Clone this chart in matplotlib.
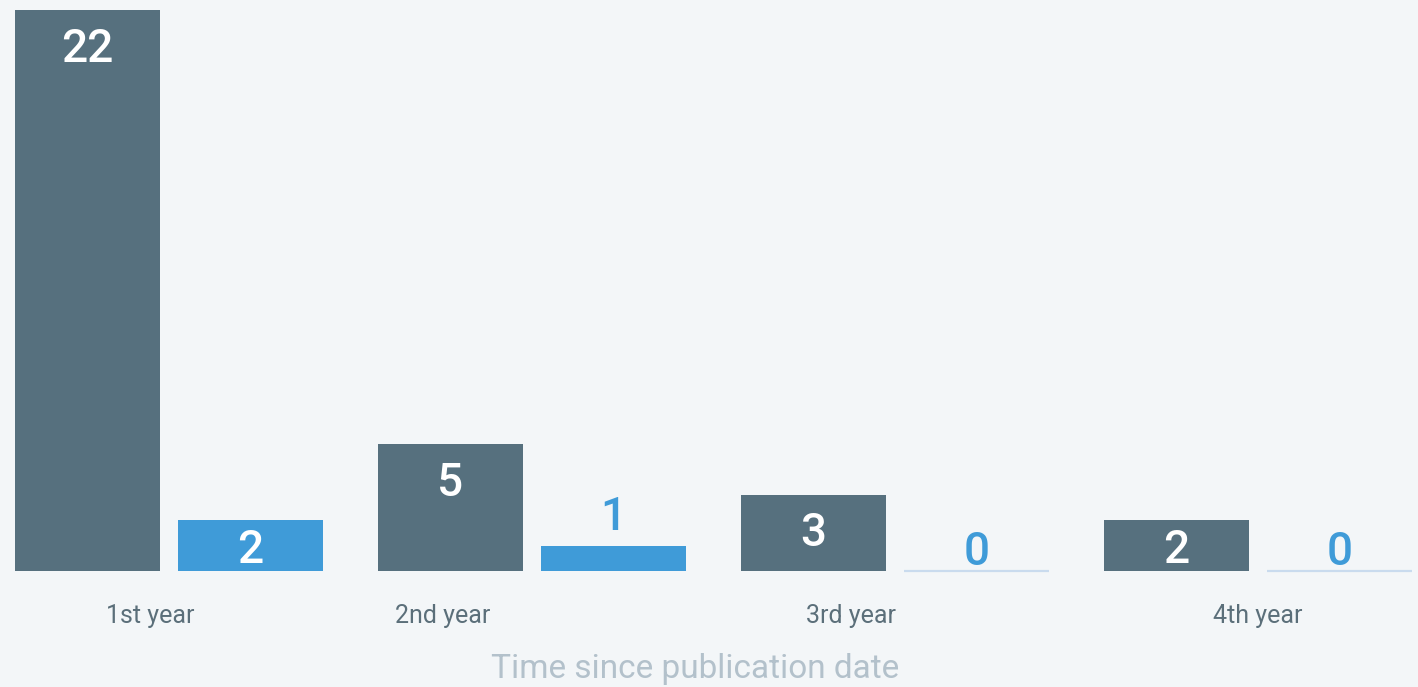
import numpy as np
import matplotlib
matplotlib.use("Agg")
import matplotlib.pyplot as plt

# data
categories = ["1st year", "2nd year", "3rd year", "4th year"]
series_a = [22, 5, 3, 2]   # dark bars
series_b = [2, 1, 0, 0]    # blue bars

DARK = "#56707e"
BLUE = "#3f9bd8"
BG = "#f3f6f8"
ZERO = "#c9dbee"
TICK = "#5b6f7a"
TITLE = "#b3c1cb"

plt.rcParams["font.family"] = ["Roboto", "DejaVu Sans"]

W, H = 1418, 687
fig = plt.figure(figsize=(W / 100, H / 100), dpi=100, facecolor=BG)

px_unit = 363.0    # pixels per group
x0 = 169.0         # pixel of the first group center
base = 571.0       # pixel row of the baseline
py_unit = 25.5     # pixels per count

ax = fig.add_axes([0, (H - base) / H, 1, base / H])
ax.set_facecolor(BG)
ax.set_xlim(-x0 / px_unit, (W - x0) / px_unit)
ax.set_ylim(0, base / py_unit)

x = np.arange(len(categories))
w = 0.4
off = 0.225

for xs, vals, col in [(x - off, series_a, DARK), (x + off, series_b, BLUE)]:
    for xi, v in zip(xs, vals):
        if v == 0:
            ax.plot([xi - w / 2, xi + w / 2], [0, 0], color=ZERO, lw=1.6,
                     solid_capstyle="butt", clip_on=False)
        else:
            ax.bar(xi, v, width=w, color=col, edgecolor="none")

        if v >= 3:
            ax.annotate(str(v), (xi, v), xytext=(0, -17), textcoords="offset pixels",
                        ha="center", va="top", color="white", fontsize=33,
                        fontweight="medium")
        elif v == 2:
            ax.text(xi, v / 2, str(v), ha="center", va="center_baseline",
                    color="white", fontsize=33, fontweight="medium")
        else:
            dy = 6 if v == 0 else 15
            ax.annotate(str(v), (xi, v), xytext=(0, dy), textcoords="offset pixels",
                        ha="center", va="baseline", color=BLUE, fontsize=33,
                        fontweight="medium")

# tick labels sit slightly off the group centers in the original
tick_px = [150, 443, 851, 1258]
ax.set_xticks([(p - x0) / px_unit for p in tick_px])
ax.set_xticklabels(categories, color=TICK, fontsize=18)
ax.tick_params(axis="x", length=0, pad=24)
ax.set_yticks([])
for s in ax.spines.values():
    s.set_visible(False)

fig.text(695 / W, 1 - 669 / H, "Time since publication date", ha="center",
         va="center", color=TITLE, fontsize=24)

fig.savefig("out.png", dpi=100, facecolor=BG)
